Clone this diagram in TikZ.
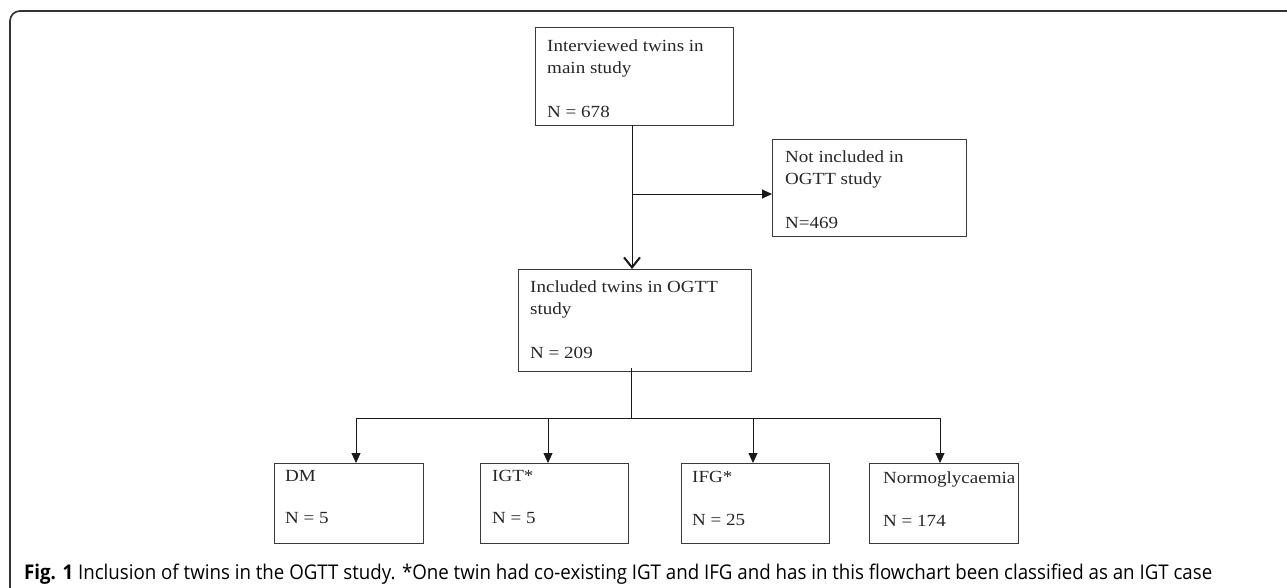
\documentclass[tikz,border=0pt]{standalone}
\usepackage{fontspec}
\setmainfont{Liberation Serif}
\newfontfamily\boxfont[FakeStretch=1.12]{Liberation Serif}
\newfontfamily\capfont{Open Sans}
\usetikzlibrary{arrows.meta}
\definecolor{boxline}{HTML}{3A3A3A}
\tikzset{
  flowbox/.style={draw=boxline, line width=1.1pt, rectangle, inner sep=0pt},
  boxtext/.style={anchor=north west, inner sep=0pt, align=left, text=black!85,
    font=\boxfont\fontsize{17}{22}\selectfont},
  conn/.style={draw=black!90, line width=0.9pt},
  tri/.style={-{Triangle[length=10pt,width=9pt]}},
  barb/.style={-{Straight Barb[length=10pt,width=16pt,line width=2pt]}},
}
\begin{document}
\begin{tikzpicture}[x=1pt,y=-1pt]
\useasboundingbox (0,0) rectangle (1287,588);
% frame
\draw[line width=1.7pt, draw=black!80, rounded corners=10pt] (10,620) -- (10,11) -- (1320,11);
% boxes
\node[flowbox, minimum width=198pt, minimum height=98pt, anchor=north west] (b1) at (535,27) {};
\node[flowbox, minimum width=233pt, minimum height=102pt, anchor=north west] (b2) at (518,269) {};
\node[flowbox, minimum width=194pt, minimum height=97pt, anchor=north west] (b3) at (772,139) {};
\node[flowbox, minimum width=149pt, minimum height=80pt, anchor=north west] (dm) at (274,463) {};
\node[flowbox, minimum width=148pt, minimum height=80pt, anchor=north west] (igt) at (480,463) {};
\node[flowbox, minimum width=148pt, minimum height=80pt, anchor=north west] (ifg) at (681,463) {};
\node[flowbox, minimum width=149pt, minimum height=80pt, anchor=north west] (nrm) at (869,463) {};
% texts
\node[boxtext] (t1) at (547,39.5) {Interviewed twins in\\main study\\[22pt]N = 678};
\node[boxtext] (t2) at (530,280.5) {Included twins in OGTT\\study\\[22pt]N = 209};
\node[boxtext] (t3) at (785,150.5) {Not included in\\OGTT study\\[22pt]N=469};
\node[boxtext] (tdm) at (285,470.5) {DM\\[20pt]N = 5};
\node[boxtext] (tigt) at (492,470.5) {IGT*\\[20pt]N = 5};
\node[boxtext] (tifg) at (692,471.5) {IFG*\\[21pt]N = 25};
\node[boxtext] (tnrm) at (883,471.5) {Normoglycaemia\\[21pt]N = 174};
% connectors
\coordinate (c1) at (632,125);
\coordinate (c2) at (632,194);
\coordinate (c3) at (632,269);
\draw[conn, barb] (c1) -- (c3);
\draw[conn, tri] (c2) -- (b3.west |- c2);
\coordinate (d1) at (631,368);
\coordinate (d2) at (631,418);
\coordinate (hl) at (356,418);
\coordinate (hr) at (940,418);
\coordinate (hi) at (548,418);
\coordinate (hf) at (753,418);
\draw[conn] (d1) -- (d2);
\draw[conn, tri] (d2) -| (hl) -- (hl |- dm.north);
\draw[conn, tri] (d2) -| (hr) -- (hr |- nrm.north);
\draw[conn, tri] (hi) -- (hi |- igt.north);
\draw[conn, tri] (hf) -- (hf |- ifg.north);
% caption
\node[anchor=base west, inner sep=0pt] (cap) at (24,579) {\resizebox{1188pt}{15.5pt}{\capfont\fontsize{20}{24}\selectfont\textbf{Fig. 1} Inclusion of twins in the OGTT study. *One twin had co-existing IGT and IFG and has in this flowchart been classified as an IGT case}};
\end{tikzpicture}
\end{document}
